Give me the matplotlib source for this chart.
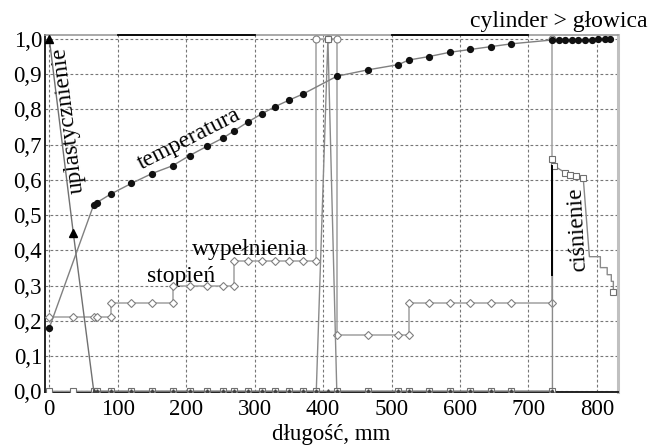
import numpy as np
import matplotlib
matplotlib.use("Agg")
import matplotlib.pyplot as plt
from matplotlib.ticker import FuncFormatter

plt.rcParams['font.family'] = ['Liberation Serif', 'DejaVu Serif']

# temperatura (black dots)
temp_x = [0, 65, 69, 90, 120, 150, 180, 205, 230, 254, 270, 290, 310, 330, 350, 370,
          420, 465, 510, 525, 555, 585, 615, 645, 675, 735,
          744, 754, 764, 773, 783, 793, 802, 812, 819]
temp_y = [0.18, 0.53, 0.535, 0.56, 0.59, 0.618, 0.64, 0.669, 0.695, 0.719, 0.739, 0.764, 0.787, 0.808, 0.826, 0.843,
          0.894, 0.912, 0.927, 0.94, 0.95, 0.962, 0.97, 0.978, 0.986, 0.997,
          0.996, 0.996, 0.997, 0.997, 0.998, 0.998, 0.999, 1.0, 1.0]

# stopien wypelnienia (white diamonds)
wyp_x = [0, 35, 65, 69, 90, 90, 120, 150, 180, 180, 205, 230, 254, 270, 270, 290, 310, 330, 350, 370, 390,
         390, 407, 420, 420, 465, 510, 525, 525, 555, 585, 615, 645, 675, 735, 735]
wyp_y = [0.21, 0.21, 0.21, 0.21, 0.21, 0.25, 0.25, 0.25, 0.25, 0.30, 0.30, 0.30, 0.30, 0.30, 0.37, 0.37, 0.37,
         0.37, 0.37, 0.37, 0.37, 1.0, 1.0, 1.0, 0.16, 0.16, 0.16, 0.16, 0.25, 0.25, 0.25, 0.25, 0.25, 0.25,
         0.25, 1.0]

# cisnienie (white squares)
cis_x = [0, 35, 65, 69, 90, 120, 150, 180, 205, 230, 254, 270, 290, 310, 330, 350, 370, 390, 407, 420,
         465, 510, 525, 555, 585, 615, 645, 675, 735, 735, 737, 754, 760, 770, 780,
         789, 805, 805, 815, 815, 821, 821, 824, 824]
cis_y = [0, 0, 0, 0, 0, 0, 0, 0, 0, 0, 0, 0, 0, 0, 0, 0, 0, 0, 1.0, 0,
         0, 0, 0, 0, 0, 0, 0, 0, 0, 0.66, 0.64, 0.62, 0.615, 0.61, 0.605,
         0.382, 0.382, 0.351, 0.351, 0.331, 0.331, 0.312, 0.312, 0.283]
cis_marks = [i for i in range(35)] + [43]

# uplastycznienie (black triangles)
upl_x = [0, 35, 65, 69, 90, 120, 150, 180, 205, 230, 254, 270, 290, 310, 330, 350, 370, 390, 407, 420,
         465, 510, 525, 555, 585, 615, 645, 675, 735]
upl_y = [1.0, 0.45] + [0.0] * 27

# black segment at the cylinder/head boundary
gran_x = [735, 735]
gran_y = [0.33, 0.64]

xticks = [0, 100, 200, 300, 400, 500, 600, 700, 800]
yticks = np.arange(0, 1.01, 0.1)

fig = plt.figure(figsize=(6.5, 4.46), dpi=100)
ax = fig.add_axes([0.069, 0.121, 0.882, 0.8005])

ax.plot(wyp_x, wyp_y, color='#a8a8a8', lw=1.2, zorder=3)
wx = np.array(wyp_x); wy = np.array(wyp_y)
ax.plot(wx[wy < 1], wy[wy < 1], ls='none', marker='D', ms=4.5, mfc='white', mec='#808080', mew=0.8, zorder=4)
ax.plot(wx[wy >= 1], wy[wy >= 1], ls='none', marker='o', ms=5, mfc='white', mec='#808080', mew=0.8, zorder=4)

ax.plot(cis_x, cis_y, color='#8a8a8a', lw=1.0, marker='s', ms=4.5, mfc='white', mec='#707070', mew=0.8,
        markevery=cis_marks, zorder=5)
ax.plot(upl_x, upl_y, color='#707070', lw=1.0, zorder=5)
ax.plot(upl_x[:2], upl_y[:2], ls='none', marker='^', ms=5.5, color='black', zorder=6)
ax.plot(upl_x[2:], upl_y[2:], ls='none', marker='^', ms=2.5, color='#404040', zorder=6)
ax.plot(gran_x, gran_y, color='black', lw=1.4, zorder=6)

ax.plot(temp_x, temp_y, color='#808080', lw=1.0, marker='o', ms=4.2, mfc='#111111', mec='#111111', zorder=7)

ax.set_xlim(-6.5, 831)
ax.set_ylim(-0.002, 1.011)
ax.set_xticks(xticks)
ax.set_yticks(yticks)
ax.yaxis.set_major_formatter(FuncFormatter(lambda v, p: f"{v:.1f}".replace('.', ',')))
ax.tick_params(length=0, labelsize=16.5)
ax.tick_params(axis='x', pad=5)
ax.tick_params(axis='y', pad=2)
ax.grid(True, color='#777777', ls=(0, (2.5, 2)), lw=0.8)
ax.set_axisbelow(True)

for s in ['left', 'bottom']:
    ax.spines[s].set_color('#222222')
    ax.spines[s].set_linewidth(1.4)
ax.spines['top'].set_color('#999999')
ax.spines['top'].set_linewidth(1.2)
ax.spines['right'].set_color('#c0c0c0')
ax.spines['right'].set_linewidth(2.2)
for a, b in [(100, 300), (500, 700)]:
    ax.plot([a, b], [1.011, 1.011], color='black', lw=1.3, clip_on=False, zorder=8)

ax.set_xlabel('długość, mm', fontsize=16.5, labelpad=3)

ax.text(205, 0.716, 'temperatura', fontsize=17, rotation=27, ha='center', va='center', rotation_mode='anchor')
ax.text(28, 0.77, 'uplastycznienie', fontsize=17, rotation=97, ha='center', va='center', rotation_mode='anchor')
ax.text(772, 0.46, 'ciśnienie', fontsize=17, rotation=93, ha='center', va='center', rotation_mode='anchor')
ax.text(143, 0.31, 'stopień', fontsize=17, ha='left', va='baseline')
ax.text(208, 0.388, 'wypełnienia', fontsize=17, ha='left', va='baseline')
ax.text(615, 1.034, 'cylinder > głowica', fontsize=17, ha='left', va='baseline', clip_on=False)

fig.savefig('out.png', dpi=100)
